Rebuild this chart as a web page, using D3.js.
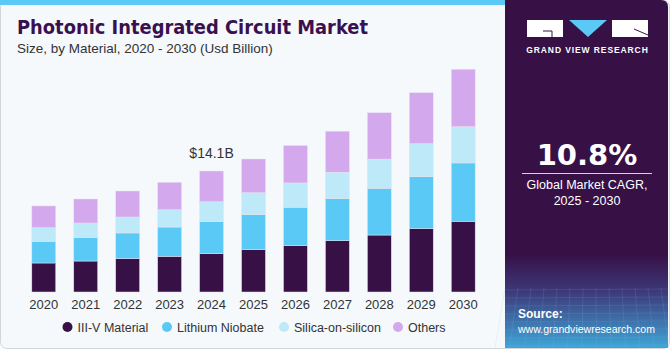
<!DOCTYPE html>
<html>
<head>
<meta charset="utf-8">
<script src="https://cdn.jsdelivr.net/npm/d3@7"></script>
<style>
  body { margin: 0; background: #fff; }
  svg { display: block; font-family: "Liberation Sans", Arial, sans-serif; }
</style>
</head>
<body>
<div id="chart"></div>
<script>
const years = ["2020", "2021", "2022", "2023", "2024", "2025", "2026", "2027", "2028", "2029", "2030"];
const seriesNames = ["III-V Material", "Lithium Niobate", "Silica-on-silicon", "Others"];
const iiiV = [3.38, 3.61, 3.88, 4.16, 4.46, 4.95, 5.40, 5.98, 6.64, 7.38, 8.24];
const lithiumNiobate = [2.53, 2.72, 3.00, 3.41, 3.73, 4.06, 4.48, 4.90, 5.44, 6.06, 6.80];
const silicaOnSilicon = [1.59, 1.71, 1.86, 2.02, 2.33, 2.56, 2.83, 3.08, 3.41, 3.85, 4.23];
const others = [2.53, 2.80, 3.03, 3.19, 3.58, 3.93, 4.35, 4.78, 5.40, 5.94, 6.69];
const colors = ["#371046", "#5bc9f5", "#bde9f9", "#d4a8ec"];
const callout = { year: "2024", label: "$14.1B" };

const width = 670;
const height = 350;

const svg = d3.select("#chart")
  .append("svg")
  .attr("width", width)
  .attr("height", height);

// card background
svg.append("rect")
  .attr("x", 0.5).attr("y", 0.5)
  .attr("width", width - 1).attr("height", height - 2)
  .attr("rx", 6)
  .attr("fill", "#f5f9fc")
  .attr("stroke", "#d3d6d9");

// top blue stripe
svg.append("rect")
  .attr("x", 0).attr("y", 0)
  .attr("width", 506).attr("height", 5)
  .attr("fill", "#5bc9f5");

// title
svg.append("text")
  .attr("x", 17).attr("y", 34)
  .attr("font-size", 19.5)
  .attr("font-weight", 900)
  .attr("fill", "#3a1050")
  .style("font-family", "'DejaVu Sans', sans-serif")
  .attr("textLength", 351)
  .attr("lengthAdjust", "spacingAndGlyphs")
  .text("Photonic Integrated Circuit Market");

svg.append("text")
  .attr("x", 17).attr("y", 53)
  .attr("font-size", 13.5)
  .attr("fill", "#333")
  .text("Size, by Material, 2020 - 2030 (Usd Billion)");

// stack data
const rows = years.map((y, i) => ({
  year: y,
  [seriesNames[0]]: iiiV[i],
  [seriesNames[1]]: lithiumNiobate[i],
  [seriesNames[2]]: silicaOnSilicon[i],
  [seriesNames[3]]: others[i]
}));
const stacked = d3.stack().keys(seriesNames)(rows);

const x = d3.scaleBand()
  .domain(years)
  .range([20.5, 486.5])
  .paddingInner(0.43)
  .paddingOuter(0.27);

const y = d3.scaleLinear()
  .domain([0, 26])
  .range([292, 68.9]);

const color = d3.scaleOrdinal().domain(seriesNames).range(colors);

svg.append("g")
  .selectAll("g")
  .data(stacked)
  .enter()
  .append("g")
  .attr("fill", d => color(d.key))
  .selectAll("rect")
  .data(d => d)
  .enter()
  .append("rect")
  .attr("x", d => x(d.data.year))
  .attr("y", d => y(d[1]))
  .attr("width", x.bandwidth())
  .attr("height", d => y(d[0]) - y(d[1]))
  .attr("stroke", "#e6e2ee")
  .attr("stroke-width", 0.5);

// x axis labels
const xAxis = svg.append("g")
  .attr("transform", "translate(0,292)")
  .call(d3.axisBottom(x).tickSize(0).tickPadding(8));
xAxis.select(".domain").remove();
xAxis.selectAll("text")
  .attr("font-size", 13)
  .attr("fill", "#333")
  .style("font-family", "'Liberation Sans', Arial, sans-serif");

// callout over 2024
const ci = years.indexOf(callout.year);
const total = iiiV[ci] + lithiumNiobate[ci] + silicaOnSilicon[ci] + others[ci];
svg.append("text")
  .attr("x", x(callout.year) + x.bandwidth() / 2)
  .attr("y", y(total) - 13)
  .attr("text-anchor", "middle")
  .attr("font-size", 14)
  .attr("fill", "#333")
  .text(callout.label);

// legend
const legendX = [67.5, 167, 284, 398];
const legend = svg.append("g")
  .selectAll("g")
  .data(seriesNames)
  .enter()
  .append("g")
  .attr("transform", (d, i) => `translate(${legendX[i]},327)`);
legend.append("circle")
  .attr("r", 5)
  .attr("fill", d => color(d));
legend.append("text")
  .attr("x", 10)
  .attr("y", 4.5)
  .attr("font-size", 12.5)
  .attr("fill", "#333")
  .text(d => d);

// right panel
const defs = svg.append("defs");
const grad = defs.append("linearGradient")
  .attr("id", "panelGrad")
  .attr("x1", 0).attr("y1", 0).attr("x2", 0).attr("y2", 1);
grad.append("stop").attr("offset", "0%").attr("stop-color", "#371046");
grad.append("stop").attr("offset", "73%").attr("stop-color", "#371046");
grad.append("stop").attr("offset", "84%").attr("stop-color", "#3d3a7a");
grad.append("stop").attr("offset", "100%").attr("stop-color", "#3fa6d8");

svg.append("path")
  .attr("d", "M505,0 H661 Q668,0 668,7 V348 H505 Z")
  .attr("fill", "url(#panelGrad)");

// faint grid texture near the bottom of the panel
const grid = svg.append("g").attr("stroke", "#8fb7e6").attr("stroke-opacity", 0.25).attr("stroke-width", 0.6);
d3.range(0, 14).forEach(i => {
  grid.append("line")
    .attr("x1", 505 + i * 13).attr("y1", 288)
    .attr("x2", 505 + i * 13 - 10 + i * 1.5).attr("y2", 348);
});
d3.range(0, 8).forEach(i => {
  grid.append("line")
    .attr("x1", 505).attr("y1", 290 + i * 8)
    .attr("x2", 668).attr("y2", 292 + i * 8 - 3);
});

// logo
svg.append("rect").attr("x", 527).attr("y", 20).attr("width", 36).attr("height", 17).attr("fill", "#fff");
svg.append("path").attr("d", "M569,20 L607,20 L588,37 Z").attr("fill", "#5bc9f5");
svg.append("rect").attr("x", 612).attr("y", 20).attr("width", 36).attr("height", 17).attr("fill", "#fff");
svg.append("path").attr("d", "M543,31 H552 V37").attr("stroke", "#371046").attr("stroke-width", 1).attr("fill", "none");
svg.append("path").attr("d", "M634,29 L648,35").attr("stroke", "#371046").attr("stroke-width", 1).attr("fill", "none");
svg.append("text")
  .attr("x", 587.5).attr("y", 53)
  .attr("text-anchor", "middle")
  .attr("font-size", 8.5)
  .attr("font-weight", 700)
  .attr("letter-spacing", 0.9)
  .attr("fill", "#fff")
  .text("GRAND VIEW RESEARCH");

// CAGR
svg.append("text")
  .attr("x", 587).attr("y", 165)
  .attr("text-anchor", "middle")
  .attr("font-size", 29)
  .attr("font-weight", 700)
  .attr("fill", "#fff")
  .style("font-family", "'DejaVu Sans', sans-serif")
  .text("10.8%");
svg.append("line")
  .attr("x1", 522).attr("x2", 652)
  .attr("y1", 173.5).attr("y2", 173.5)
  .attr("stroke", "#d8cfe0").attr("stroke-width", 1);
svg.append("text")
  .attr("x", 587).attr("y", 189)
  .attr("text-anchor", "middle")
  .attr("font-size", 12.5)
  .attr("fill", "#fff")
  .text("Global Market CAGR,");
svg.append("text")
  .attr("x", 587).attr("y", 205)
  .attr("text-anchor", "middle")
  .attr("font-size", 12.5)
  .attr("fill", "#fff")
  .text("2025 - 2030");

// source
svg.append("text")
  .attr("x", 518).attr("y", 318)
  .attr("font-size", 12)
  .attr("font-weight", 700)
  .attr("fill", "#fff")
  .text("Source:");
svg.append("text")
  .attr("x", 518).attr("y", 333)
  .attr("font-size", 11.5)
  .attr("fill", "#fff")
  .attr("textLength", 137)
  .attr("lengthAdjust", "spacingAndGlyphs")
  .text("www.grandviewresearch.com");
</script>
</body>
</html>
